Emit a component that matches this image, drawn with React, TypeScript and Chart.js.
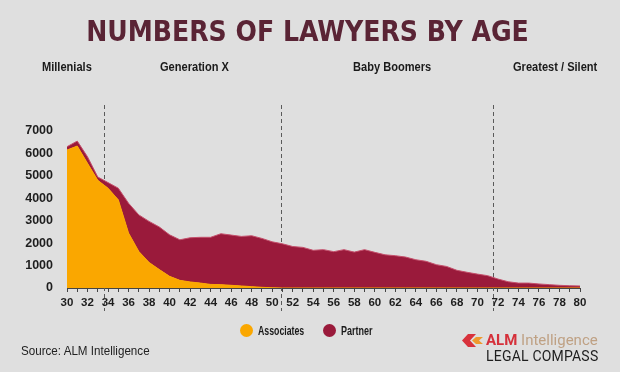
import React, { useEffect, useRef } from 'react';
import { Chart, registerables } from 'chart.js';

Chart.register(...registerables);

const ages = [30, 31, 32, 33, 34, 35, 36, 37, 38, 39, 40, 41, 42, 43, 44, 45, 46, 47, 48, 49, 50, 51, 52, 53, 54, 55, 56, 57, 58, 59, 60, 61, 62, 63, 64, 65, 66, 67, 68, 69, 70, 71, 72, 73, 74, 75, 76, 77, 78, 79, 80];

const associates = [6150, 6330, 5560, 4800, 4450, 3930, 2450, 1630, 1140, 820, 520, 340, 270, 220, 160, 150, 120, 90, 60, 30, 10, 0, 0, 0, 0, 0, 0, 0, 0, 0, 0, 0, 0, 0, 0, 0, 0, 0, 0, 0, 0, 0, 0, 0, 0, 0, 0, 0, 0, 0, 0];

const partners = [150, 220, 290, 150, 250, 520, 1330, 1630, 1830, 1900, 1850, 1810, 1970, 2040, 2100, 2270, 2240, 2210, 2270, 2180, 2050, 1970, 1850, 1810, 1680, 1710, 1620, 1710, 1600, 1710, 1590, 1480, 1440, 1380, 1260, 1190, 1040, 960, 790, 700, 620, 550, 400, 280, 220, 220, 180, 150, 120, 100, 90];

const yTickValues = [0, 1000, 2000, 3000, 4000, 5000, 6000, 7000];

const generationBoundaries = [33.6, 50.9, 71.5];
const generationLabels = ['Millenials', 'Generation X', 'Baby Boomers', 'Greatest / Silent'];
const seriesLabels = ['Associates', 'Partner'];

const ORANGE = '#FAA700';
const MAROON = '#9A1A3B';
const SANS = "'Liberation Sans', Arial, sans-serif";
const CONDENSED = "'DejaVu Sans Condensed', 'Liberation Sans', sans-serif";

const genLabelLeft = [42, 160, 353, 513];

function Squeezed(props: { left: number; top: number; size: number; scale: number; bold?: boolean; color?: string; family?: string; children: React.ReactNode }) {
  return (
    <div
      style={{
        position: 'absolute',
        left: props.left,
        top: props.top,
        fontFamily: props.family || SANS,
        fontSize: props.size,
        fontWeight: props.bold ? 'bold' : 'normal',
        color: props.color || '#1a1a1a',
        lineHeight: '18px',
        whiteSpace: 'nowrap',
        transform: `scaleX(${props.scale})`,
        transformOrigin: 'left top',
      }}
    >
      {props.children}
    </div>
  );
}

export default function App() {
  const canvasRef = useRef<HTMLCanvasElement | null>(null);

  useEffect(() => {
    document.body.style.margin = '0';
    const canvas = canvasRef.current;
    if (!canvas) return;

    const dividerPlugin = {
      id: 'generationDividers',
      beforeDatasetsDraw(chart: any) {
        const ctx = chart.ctx;
        const xs = chart.scales.x;
        ctx.save();
        ctx.strokeStyle = '#5a5a5a';
        ctx.lineWidth = 1;
        ctx.setLineDash([4, 3]);
        generationBoundaries.forEach((age) => {
          const x = Math.round(xs.getPixelForValue(age - ages[0])) + 0.5;
          ctx.beginPath();
          ctx.moveTo(x, 105);
          ctx.lineTo(x, 311);
          ctx.stroke();
        });
        ctx.restore();
      },
    };

    const chart = new Chart(canvas, {
      type: 'line',
      data: {
        labels: ages.map(String),
        datasets: [
          {
            label: seriesLabels[0],
            data: associates,
            backgroundColor: ORANGE,
            borderColor: ORANGE,
            borderWidth: 1,
            pointRadius: 0,
            fill: 'origin',
            tension: 0,
          },
          {
            label: seriesLabels[1],
            data: partners,
            backgroundColor: MAROON,
            borderColor: '#C4506C',
            borderWidth: 1,
            pointRadius: 0,
            fill: '-1',
            tension: 0,
          },
        ],
      },
      options: {
        responsive: false,
        animation: false,
        devicePixelRatio: 1,
        layout: { padding: { top: 131, right: 40, bottom: 0, left: 0 } },
        plugins: {
          legend: { display: false },
          title: { display: false },
          tooltip: { enabled: false },
        },
        scales: {
          x: {
            type: 'category',
            offset: false,
            grid: {
              display: true,
              drawOnChartArea: false,
              drawTicks: true,
              tickLength: 4,
              color: '#444',
            },
            border: { display: true, color: '#444', width: 1 },
            ticks: {
              autoSkip: false,
              maxRotation: 0,
              minRotation: 0,
              padding: 4,
              color: '#1e1e1e',
              font: { family: SANS, size: 11.5, weight: 'bold' },
              callback: (_v: any, i: number) => (ages[i] % 2 === 0 ? String(ages[i]) : ''),
            },
            afterFit: (s: any) => {
              s.height = 84;
            },
          },
          y: {
            stacked: true,
            min: 0,
            max: 7000,
            grid: { display: false },
            border: { display: false },
            afterBuildTicks: (s: any) => {
              s.ticks = yTickValues.map((v) => ({ value: v }));
            },
            ticks: {
              padding: 6,
              color: '#1e1e1e',
              font: { family: SANS, size: 12.5, weight: 'bold' },
              callback: (v: any) => String(v),
            },
            afterFit: (s: any) => {
              s.width = 67;
            },
          },
        },
      },
      plugins: [dividerPlugin],
    } as any);

    return () => chart.destroy();
  }, []);

  return (
    <div
      style={{
        position: 'relative',
        width: 620,
        height: 372,
        background: '#DFDFDF',
        overflow: 'hidden',
        fontFamily: SANS,
      }}
    >
      <canvas
        ref={canvasRef}
        width={620}
        height={372}
        style={{ position: 'absolute', left: 0, top: 0, width: 620, height: 372 }}
      />
      <div
        style={{
          position: 'absolute',
          left: 0,
          width: 615,
          top: 12,
          textAlign: 'center',
          fontFamily: CONDENSED,
          fontSize: 28,
          fontWeight: 'bold',
          color: '#5A2435',
          lineHeight: '40px',
          whiteSpace: 'nowrap',
        }}
      >
        NUMBERS OF LAWYERS BY AGE
      </div>
      {generationLabels.map((g, i) => (
        <Squeezed key={g} left={genLabelLeft[i]} top={58} size={13.5} scale={0.82} bold>
          {g}
        </Squeezed>
      ))}
      {/* legend */}
      <div style={{ position: 'absolute', left: 240, top: 324, width: 13, height: 13, borderRadius: '50%', background: ORANGE }} />
      <Squeezed left={258} top={322} size={12.5} scale={0.7} bold>
        {seriesLabels[0]}
      </Squeezed>
      <div style={{ position: 'absolute', left: 323, top: 324, width: 13, height: 13, borderRadius: '50%', background: MAROON }} />
      <Squeezed left={341} top={322} size={12.5} scale={0.72} bold>
        {seriesLabels[1]}
      </Squeezed>
      {/* source */}
      <Squeezed left={21} top={342} size={12.5} scale={0.93} color="#222">
        Source: ALM Intelligence
      </Squeezed>
      {/* logo */}
      <svg style={{ position: 'absolute', left: 461, top: 334 }} width={24} height={13} viewBox="0 0 24 13">
        <polygon points="7,0 15,0 9,6.5 15,13 7,13 1,6.5" fill="#D8323C" />
        <polygon points="15,3 22,3 18,6.5 22,10 15,10 11,6.5" fill="#EE9A2E" />
      </svg>
      <div
        style={{
          position: 'absolute',
          left: 486,
          top: 331,
          fontFamily: 'Roboto, sans-serif',
          fontSize: 15,
          lineHeight: '18px',
          whiteSpace: 'nowrap',
        }}
      >
        <span style={{ color: '#D5303A', fontWeight: 'bold' }}>ALM</span>
        <span style={{ color: '#BFA184' }}> Intelligence</span>
      </div>
      <div
        style={{
          position: 'absolute',
          left: 486,
          top: 347,
          fontFamily: 'Roboto, sans-serif',
          fontSize: 14,
          color: '#1e1e1e',
          lineHeight: '18px',
          whiteSpace: 'nowrap',
          letterSpacing: 0.2,
        }}
      >
        LEGAL COMPASS
      </div>
    </div>
  );
}
